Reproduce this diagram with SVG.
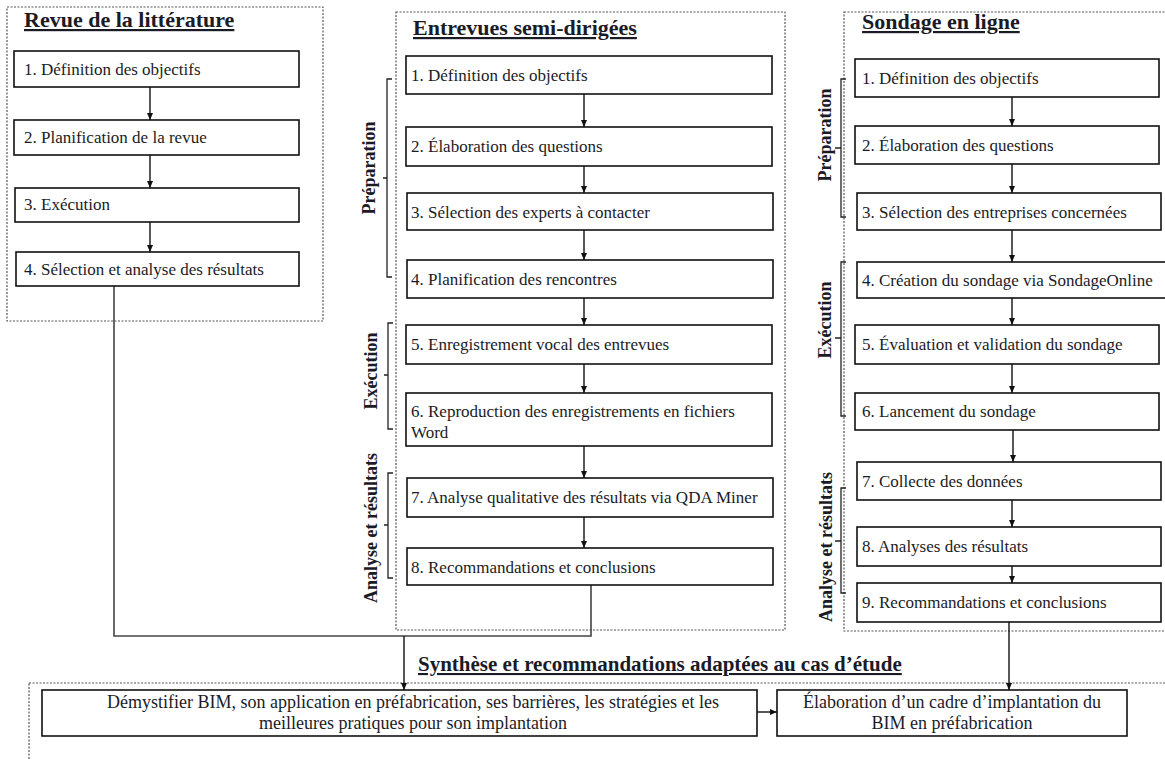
<svg xmlns="http://www.w3.org/2000/svg" width="1165" height="759" viewBox="0 0 1165 759">
  <style>
    .frame { fill: none; stroke: #555; stroke-width: 1.2; stroke-dasharray: 2 1.5; }
    .box { fill: #fff; stroke: #111; stroke-width: 1.6; }
    .t { font-family: "Liberation Serif", "Times New Roman", serif; font-size: 17px; fill: #1b1b26; }
    .tb { font-family: "Liberation Serif", "Times New Roman", serif; font-size: 18px; fill: #1b1b26; }
    .title { font-family: "Liberation Serif", "Times New Roman", serif; font-size: 22px; font-weight: bold; fill: #1b1b26; text-decoration: underline; }
    .phase { font-family: "Liberation Serif", "Times New Roman", serif; font-size: 18px; font-weight: bold; fill: #1b1b26; text-anchor: middle; dominant-baseline: central; }
    .brk { fill: none; stroke: #222; stroke-width: 1.3; }
    .arr { fill: none; stroke: #111; stroke-width: 1.4; marker-end: url(#ah); }
    .link { fill: none; stroke: #444; stroke-width: 1.6; }
  </style>
  <defs>
    <marker id="ah" markerWidth="8" markerHeight="8" refX="7" refY="4" orient="auto" markerUnits="userSpaceOnUse">
      <path d="M0,1 L7,4 L0,7 Z" fill="#111"/>
    </marker>
  </defs>

  <rect width="1165" height="759" fill="#fff"/>

  <!-- section frames -->
  <g id="frames">
    <rect class="frame" x="7" y="7" width="316" height="314"/>
    <rect class="frame" x="396" y="12" width="389" height="618"/>
    <rect class="frame" x="844" y="12" width="330" height="619"/>
    <rect class="frame" x="29" y="683" width="1145" height="90"/>
  </g>

  <!-- section titles -->
  <g id="titles">
    <text class="title" x="24" y="27">Revue de la littérature</text>
    <text class="title" x="413" y="35">Entrevues semi-dirigées</text>
    <text class="title" x="862" y="29">Sondage en ligne</text>
    <text class="title" x="418" y="671" style="font-size:21px">Synthèse et recommandations adaptées au cas d’étude</text>
  </g>

  <!-- phase brackets -->
  <g id="phases">
    <path class="brk" d="M392,79 H387 V277 H392 M387,178 H383"/>
    <text class="phase" transform="translate(369,168) rotate(-90)">Préparation</text>
    <path class="brk" d="M393,323 H388 V429 H393 M388,375 H384"/>
    <text class="phase" transform="translate(371,371) rotate(-90)">Exécution</text>
    <path class="brk" d="M393,473 H388 V578 H393 M388,525 H384"/>
    <text class="phase" transform="translate(371,528) rotate(-90)">Analyse et résultats</text>

    <path class="brk" d="M846,79 H841 V217 H846 M841,148 H835"/>
    <text class="phase" transform="translate(825,135) rotate(-90)">Préparation</text>
    <path class="brk" d="M846,262 H841 V416 H846 M841,338 H835"/>
    <text class="phase" transform="translate(825,320) rotate(-90)">Exécution</text>
    <path class="brk" d="M846,488 H841 V593 H846 M841,541 H835"/>
    <text class="phase" transform="translate(826,547) rotate(-90)">Analyse et résultats</text>
  </g>

  <!-- connectors -->
  <g id="connectors">
    <line class="arr" x1="150" y1="87" x2="150" y2="120"/>
    <line class="arr" x1="150" y1="155" x2="150" y2="188"/>
    <line class="arr" x1="150" y1="222" x2="150" y2="252"/>

    <line class="arr" x1="584" y1="94" x2="584" y2="127"/>
    <line class="arr" x1="584" y1="166" x2="584" y2="193"/>
    <line class="arr" x1="584" y1="230" x2="584" y2="260"/>
    <line class="arr" x1="584" y1="298" x2="584" y2="325"/>
    <line class="arr" x1="584" y1="364" x2="584" y2="393"/>
    <line class="arr" x1="584" y1="446" x2="584" y2="478"/>
    <line class="arr" x1="584" y1="517" x2="584" y2="548"/>

    <line class="arr" x1="1012" y1="97" x2="1012" y2="126"/>
    <line class="arr" x1="1012" y1="164" x2="1012" y2="193"/>
    <line class="arr" x1="1012" y1="230" x2="1012" y2="262"/>
    <line class="arr" x1="1012" y1="298" x2="1012" y2="325"/>
    <line class="arr" x1="1012" y1="364" x2="1012" y2="393"/>
    <line class="arr" x1="1013" y1="430" x2="1013" y2="462"/>
    <line class="arr" x1="1012" y1="500" x2="1012" y2="527"/>
    <line class="arr" x1="1012" y1="566" x2="1012" y2="583"/>

    <path class="link" d="M114,286 V636 H591 V585"/>
    <line class="arr" x1="404" y1="636" x2="404" y2="690"/>
    <line class="arr" x1="1009" y1="622" x2="1009" y2="690"/>
    <line class="arr" x1="757" y1="712" x2="777" y2="712"/>
  </g>

  <!-- literature review steps -->
  <g id="lit-1"><rect class="box" x="14" y="51" width="285" height="36"/><text class="t" x="24" y="75">1. Définition des objectifs</text></g>
  <g id="lit-2"><rect class="box" x="14" y="120" width="285" height="35"/><text class="t" x="24" y="143">2. Planification de la revue</text></g>
  <g id="lit-3"><rect class="box" x="15" y="188" width="284" height="34"/><text class="t" x="24" y="210">3. Exécution</text></g>
  <g id="lit-4"><rect class="box" x="16" y="252" width="283" height="34"/><text class="t" x="24" y="275">4. Sélection et analyse des résultats</text></g>

  <!-- interview steps -->
  <g id="int-1"><rect class="box" x="406" y="56" width="366" height="38"/><text class="t" x="411" y="81">1. Définition des objectifs</text></g>
  <g id="int-2"><rect class="box" x="406" y="127" width="366" height="39"/><text class="t" x="411" y="152">2. Élaboration des questions</text></g>
  <g id="int-3"><rect class="box" x="407" y="193" width="366" height="37"/><text class="t" x="411" y="218">3. Sélection des experts à contacter</text></g>
  <g id="int-4"><rect class="box" x="407" y="260" width="366" height="38"/><text class="t" x="411" y="285">4. Planification des rencontres</text></g>
  <g id="int-5"><rect class="box" x="406" y="325" width="366" height="39"/><text class="t" x="411" y="350">5. Enregistrement vocal des entrevues</text></g>
  <g id="int-6"><rect class="box" x="406" y="393" width="366" height="53"/><text class="t" x="411" y="417">6. Reproduction des enregistrements en fichiers</text><text class="t" x="411" y="438">Word</text></g>
  <g id="int-7"><rect class="box" x="407" y="478" width="366" height="39"/><text class="t" x="411" y="503">7. Analyse qualitative des résultats via QDA Miner</text></g>
  <g id="int-8"><rect class="box" x="407" y="548" width="366" height="37"/><text class="t" x="411" y="573">8. Recommandations et conclusions</text></g>

  <!-- survey steps -->
  <g id="sur-1"><rect class="box" x="855" y="59" width="304" height="38"/><text class="t" x="862" y="84">1. Définition des objectifs</text></g>
  <g id="sur-2"><rect class="box" x="855" y="126" width="304" height="38"/><text class="t" x="862" y="151">2. Élaboration des questions</text></g>
  <g id="sur-3"><rect class="box" x="857" y="193" width="304" height="37"/><text class="t" x="862" y="218">3. Sélection des entreprises concernées</text></g>
  <g id="sur-4"><rect class="box" x="857" y="262" width="320" height="36"/><text class="t" x="862" y="286">4. Création du sondage via SondageOnline</text></g>
  <g id="sur-5"><rect class="box" x="855" y="325" width="304" height="39"/><text class="t" x="862" y="350">5. Évaluation et validation du sondage</text></g>
  <g id="sur-6"><rect class="box" x="855" y="393" width="304" height="37"/><text class="t" x="862" y="417">6. Lancement du sondage</text></g>
  <g id="sur-7"><rect class="box" x="857" y="462" width="304" height="38"/><text class="t" x="862" y="487">7. Collecte des données</text></g>
  <g id="sur-8"><rect class="box" x="857" y="527" width="304" height="39"/><text class="t" x="862" y="552">8. Analyses des résultats</text></g>
  <g id="sur-9"><rect class="box" x="857" y="583" width="304" height="39"/><text class="t" x="862" y="608">9. Recommandations et conclusions</text></g>

  <!-- synthesis -->
  <g id="syn-1"><rect class="box" x="42" y="690" width="715" height="46"/>
    <text class="tb" x="413" y="708" text-anchor="middle">Démystifier BIM, son application en préfabrication, ses barrières, les stratégies et les</text>
    <text class="tb" x="413" y="729" text-anchor="middle">meilleures pratiques pour son implantation</text></g>
  <g id="syn-2"><rect class="box" x="777" y="690" width="350" height="46"/>
    <text class="tb" x="952" y="708" text-anchor="middle">Élaboration d’un cadre d’implantation du</text>
    <text class="tb" x="952" y="729" text-anchor="middle">BIM en préfabrication</text></g>
</svg>
